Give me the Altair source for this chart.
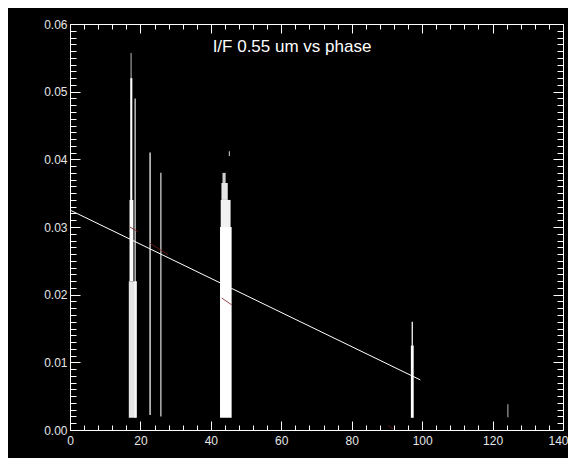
import altair as alt
import pandas as pd

# ---- data ----
title_text = "I/F 0.55 um vs phase"

# dense point columns (phase range, I/F range) drawn as filled segments
col_x0 = [16.7, 16.9, 17.1, 17.2, 18.3, 22.5, 25.6, 42.6, 42.8, 43.0, 43.3, 45.1, 96.8, 97.0, 124.2]
col_x1 = [19.0, 18.0, 17.7, 17.5, 18.7, 23.0, 26.0, 45.9, 45.6, 44.8, 44.2, 45.4, 97.6, 97.4, 124.5]
col_y0 = [0.0018, 0.022, 0.034, 0.052, 0.0018, 0.0022, 0.0020, 0.0018, 0.030, 0.034, 0.0365, 0.0405, 0.0018, 0.0125, 0.0019]
col_y1 = [0.022, 0.034, 0.052, 0.0557, 0.049, 0.041, 0.038, 0.030, 0.034, 0.0365, 0.038, 0.0412, 0.0125, 0.016, 0.0038]
col_op = [0.9, 1.0, 1.0, 0.7, 0.8, 0.7, 0.75, 1.0, 0.95, 0.9, 0.8, 0.8, 1.0, 0.9, 0.7]

# linear fit
fit_phase = [0, 99.5]
fit_val = [0.0325, 0.0074]

# faint red segments
red_x0 = [17.0, 22.7, 43.1, 90.3]
red_x1 = [19.3, 27.8, 45.9, 91.8]
red_y0 = [0.0300, 0.0276, 0.0195, 0.0007]
red_y1 = [0.0293, 0.0259, 0.0185, 0.0001]

x_major = [0, 20, 40, 60, 80, 100, 120, 140]
x_minor = list(range(0, 141, 4))
y_major = [0.0, 0.01, 0.02, 0.03, 0.04, 0.05, 0.06]
y_minor = [round(i * 0.001, 3) for i in range(61)]

W, H = 493, 406

cols = pd.DataFrame({"x0": col_x0, "x1": col_x1, "y0": col_y0, "y1": col_y1, "op": col_op})
fit = pd.DataFrame({"phase": fit_phase, "refl": fit_val})
reds = pd.DataFrame({"x0": red_x0, "x1": red_x1, "y0": red_y0, "y1": red_y1})
ttl = pd.DataFrame({"t": [title_text]})

xs = alt.Scale(domain=[0, 140], nice=False, zero=False)
ys = alt.Scale(domain=[0, 0.06], nice=False, zero=False)

lab_color = "#e6e6e6"
font = "Liberation Sans"

x_tick_size = {"condition": {"test": "datum.value % 20 === 0", "value": 9}, "value": 5}
y_tick_size = {"condition": {"test": "abs(datum.value * 100 - round(datum.value * 100)) < 0.000001", "value": 10}, "value": 6}
last_align = {"condition": {"test": "datum.value === 140", "value": "right"}, "value": "center"}
last_offset = {"condition": {"test": "datum.value === 140", "value": 5}, "value": 0}

# layer 1: columns, with labelled axes (no ticks)
l1 = alt.Chart(cols).mark_rect(color="white").encode(
    x=alt.X("x0:Q", scale=xs, title=None,
            axis=alt.Axis(orient="bottom", values=x_major, ticks=False, domain=False, grid=False,
                          labelColor=lab_color, labelFontSize=12, labelFont=font, labelPadding=5,
                          labelFlush=False, labelOverlap=False,
                          labelAlign=last_align, labelOffset=last_offset)),
    x2="x1:Q",
    y=alt.Y("y0:Q", scale=ys, title=None,
            axis=alt.Axis(orient="left", values=y_major, format=".2f", ticks=False, domain=False, grid=False,
                          labelColor=lab_color, labelFontSize=12, labelFont=font, labelPadding=3,
                          labelFlush=False, labelOverlap=False)),
    y2="y1:Q",
    opacity=alt.Opacity("op:Q", scale=None, legend=None),
)

# layer 2: fit line; axes moved onto the opposite edge so ticks point inward (bottom and left)
l2 = alt.Chart(fit).mark_line(color="white", strokeWidth=1).encode(
    x=alt.X("phase:Q", scale=xs, title=None,
            axis=alt.Axis(orient="top", offset=-H, values=x_minor, labels=False, domain=False, grid=False,
                          tickColor="white", tickSize=x_tick_size, tickWidth=1)),
    y=alt.Y("refl:Q", scale=ys, title=None,
            axis=alt.Axis(orient="right", offset=-W, values=y_minor, labels=False, domain=False, grid=False,
                          tickColor="white", tickSize=y_tick_size, tickWidth=1)),
)

# layer 3: faint red segments; axes give inward ticks at top and right
l3 = alt.Chart(reds).mark_rule(color="#7a1c1c", strokeWidth=1, opacity=0.8).encode(
    x=alt.X("x0:Q", scale=xs, title=None,
            axis=alt.Axis(orient="bottom", offset=-H, values=x_minor, labels=False, domain=False, grid=False,
                          tickColor="white", tickSize=x_tick_size, tickWidth=1)),
    x2="x1:Q",
    y=alt.Y("y0:Q", scale=ys, title=None,
            axis=alt.Axis(orient="left", offset=-W, values=y_minor, labels=False, domain=False, grid=False,
                          tickColor="white", tickSize=y_tick_size, tickWidth=1)),
    y2="y1:Q",
)

# title text inside plot
l4 = alt.Chart(ttl).mark_text(color="white", font=font, fontSize=17, align="center", baseline="middle").encode(
    text="t:N", x=alt.value(222), y=alt.value(23)
)

chart = alt.layer(l1, l2, l3, l4).resolve_axis(x="independent", y="independent").properties(
    width=W, height=H,
    padding={"left": 62, "top": 16, "right": 5, "bottom": 28},
    autosize="none",
).configure(background="black").configure_view(stroke="white", strokeWidth=1)

chart.save("out.html", embed_options={"renderer": "svg", "actions": False})
